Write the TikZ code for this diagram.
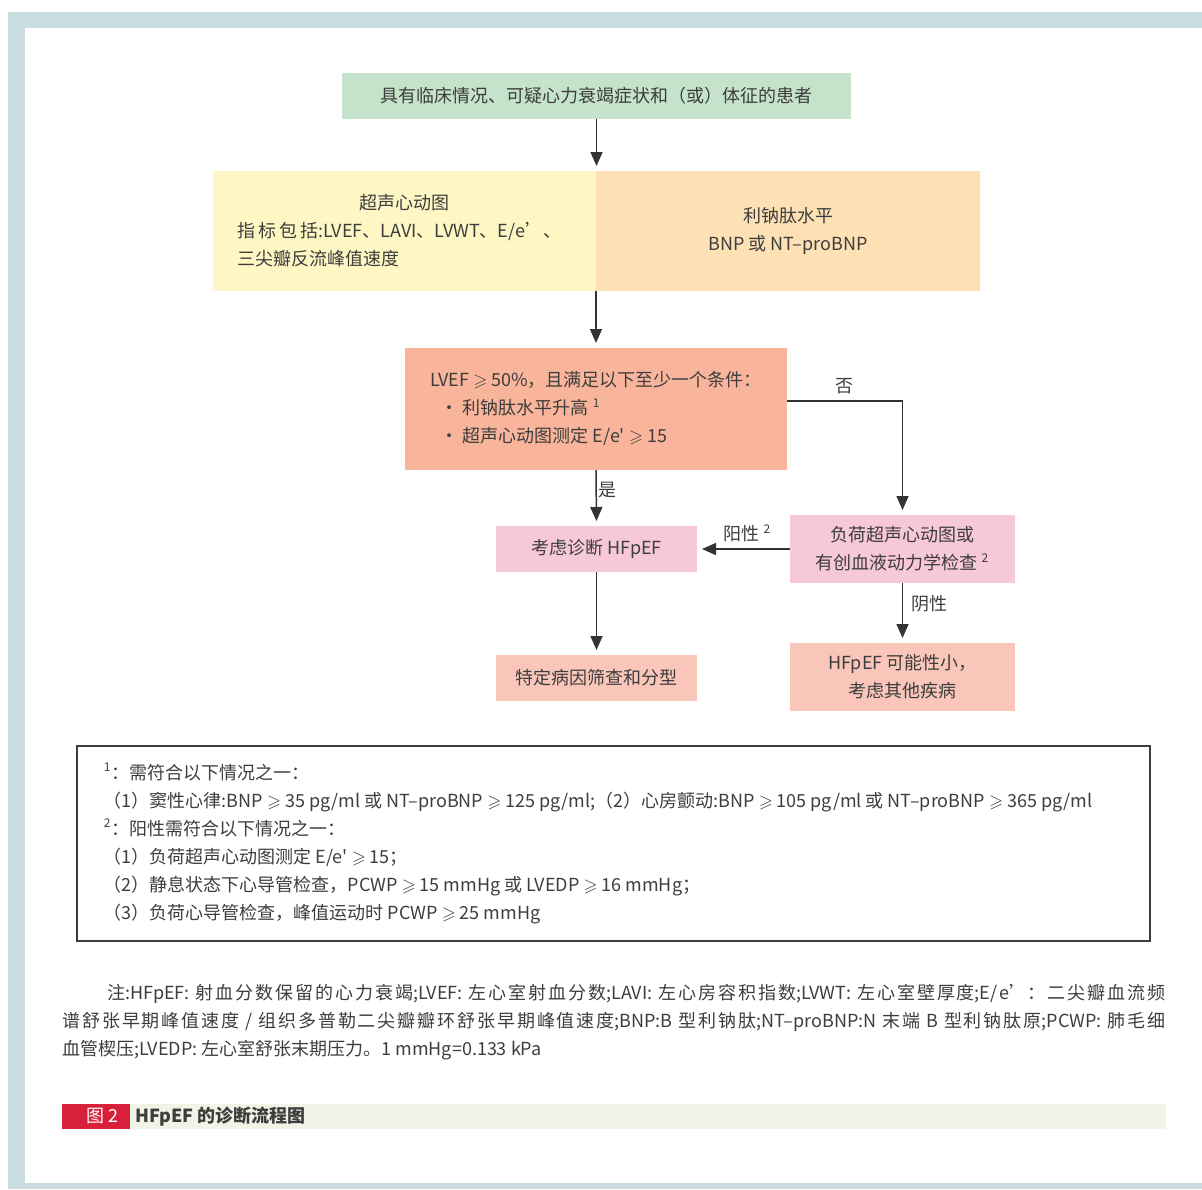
\documentclass[tikz,border=0pt]{standalone}
\usepackage{amssymb}
\usepackage{fontspec}
\setmainfont{Noto Sans CJK SC}
\newfontfamily\plainfont{Noto Sans CJK SC}
\usepackage{xcolor}
\usetikzlibrary{arrows.meta, positioning}
\XeTeXlinebreaklocale "zh"
\XeTeXlinebreakskip=0pt plus 1pt
\definecolor{Frame}{HTML}{C9DCDF}
\definecolor{Mint}{HTML}{C5E3CB}
\definecolor{Cream}{HTML}{FEF7C4}
\definecolor{Peach}{HTML}{FDE1B5}
\definecolor{Salmon}{HTML}{F8B59B}
\definecolor{Blush}{HTML}{F7C7DA}
\definecolor{LiteSalmon}{HTML}{F9C6B9}
\definecolor{Ruby}{HTML}{D9203B}
\definecolor{PaleGreen}{HTML}{EFF4E6}
\definecolor{Ink}{HTML}{3D3D3D}
\definecolor{Wire}{HTML}{333333}
\newcommand{\geqs}{\(\geqslant\)}
\newcommand{\Ee}{E/e{\plainfont '}}
\tikzset{%
  flow_block/.style={%
    rectangle,%
    inner sep=0pt,%
    outer sep=0pt,%
    align=center,%
    text=Ink,%
  },
  flow_path/.style={%
    color=Wire,%
    line width=0.75pt,%
    shorten >=2.5pt,%
  },
  flow_annotate/.style={%
    text=Ink,%
    inner sep=1pt,%
  },
  arrow/.style={-{Triangle[length=7pt, width=6pt]}},
}
\begin{document}
\begin{tikzpicture}[x=0.5pt, y=-0.5pt, font=\fontsize{9}{14}\selectfont]
    \useasboundingbox (0,0) rectangle (1202,1189);
    % frame
    \fill [Frame] (8,12) rectangle (1202,28);
    \fill [Frame] (8,12) rectangle (25,1189);
    \fill [Frame] (25,1183) rectangle (1202,1189);

    \node [flow_block, fill=Mint, minimum width=254.5pt, minimum height=23pt]
      (Patient) at (596.5,96) {%
      具有临床情况、可疑心力衰竭症状和（或）体征的患者%
    };
    \node [flow_block, fill=Cream, minimum width=191.5pt, minimum height=60pt,
      text width=167pt, align=left] (Echo) at (404.5,231) {%
      \makebox[\linewidth]{超声心动图}\\
      指\,标\,包\,括:LVEF、LAVI、LVWT、E/e’、\\
      三尖瓣反流峰值速度%
    };
    \node [flow_block, fill=Peach, minimum width=192pt, minimum height=60pt,
      right = 0pt of Echo] (Peptide) {%
      利钠肽水平\\
      BNP 或 NT–proBNP%
    };
    \node [flow_block, fill=Salmon, minimum width=191pt, minimum height=61pt,
      align=left] (Criteria) at (596,409) {%
      LVEF \geqs{} 50\%，且满足以下至少一个条件：\\
      \hspace*{0.6em}• 利钠肽水平升高 \textsuperscript{1}\\
      \hspace*{0.6em}• 超声心动图测定 \Ee{} \geqs{} 15%
    };
    \node [flow_block, fill=Blush, minimum width=100.5pt, minimum height=23pt]
      (Diagnose) at (596.5,549) {%
      考虑诊断 HFpEF%
    };
    \node [flow_block, fill=Blush, minimum width=112.5pt, minimum height=34pt]
      (Stress) at (902.5,549) {%
      负荷超声心动图或\\
      有创血液动力学检查 \textsuperscript{2}%
    };
    \node [flow_block, fill=LiteSalmon, minimum width=100.5pt, minimum height=23pt]
      (Etiology) at (596.5,678) {%
      特定病因筛查和分型%
    };
    \node [flow_block, fill=LiteSalmon, minimum width=112.5pt, minimum height=34pt]
      (Unlikely) at (902.5,677) {%
      HFpEF 可能性小，\\
      考虑其他疾病%
    };

    \draw [arrow, flow_path]
      (Patient.south)
      --
      (Patient.south |- Echo.north);
    \draw [arrow, flow_path]
      (Echo.south east)
      --
      (Criteria.north);
    \draw [arrow, flow_path]
      (Criteria.south)
      --
      (Diagnose.north)
      node [flow_annotate, pos=0.35, right] {是};
    \draw [arrow, flow_path]
      ([yshift=4pt]Criteria.east)
      -|
      (Stress.north)
      node [flow_annotate, pos=0.25, above=2pt] {否};
    \draw [arrow, flow_path]
      (Stress.west)
      --
      (Diagnose.east)
      node [flow_annotate, midway, above=2pt, xshift=2pt] {阳性 \textsuperscript{2}};
    \draw [arrow, flow_path]
      (Diagnose.south)
      --
      (Etiology.north);
    \draw [arrow, flow_path]
      (Stress.south)
      --
      (Unlikely.north)
      node [flow_annotate, pos=0.35, right=3pt] {阴性};

    % footnotes
    \node [draw=Ink, line width=0.6pt, minimum width=536.5pt, minimum height=97.5pt]
      (Footnotes) at (613.5,843.5) {};
    \node [anchor=west, align=left, inner sep=0pt, text=Ink]
      (FootText) at ([xshift=13.5pt]Footnotes.west) {%
      \textsuperscript{1}：需符合以下情况之一：\\
      （1）窦性心律:BNP \geqs{} 35 pg/ml 或 NT–proBNP \geqs{} 125 pg/ml;（2）心房颤动:BNP \geqs{} 105 pg/ml 或 NT–proBNP \geqs{} 365 pg/ml\\
      \textsuperscript{2}：阳性需符合以下情况之一：\\
      （1）负荷超声心动图测定 \Ee{} \geqs{} 15；\\
      （2）静息状态下心导管检查，PCWP \geqs{} 15 mmHg 或 LVEDP \geqs{} 16 mmHg；\\
      （3）负荷心导管检查，峰值运动时 PCWP \geqs{} 25 mmHg%
    };

    % notes
    \node [anchor=north west, text width=551.5pt, align=justify, inner sep=0pt,
      text=Ink] (Remarks) at (62,984) {%
      \hspace*{22.5pt}注:HFpEF: 射血分数保留的心力衰竭;LVEF: 左心室射血分数;LAVI: 左心房容积指数;LVWT: 左心室壁厚度;E/e’：二尖瓣血流频\linebreak
      谱舒张早期峰值速度 / 组织多普勒二尖瓣瓣环舒张早期峰值速度;BNP:B 型利钠肽;NT–proBNP:N 末端 B 型利钠肽原;PCWP: 肺毛细\linebreak
      血管楔压;LVEDP: 左心室舒张末期压力。1 mmHg=0.133 kPa%
    };

    % caption
    \node [fill=PaleGreen, minimum width=552pt, minimum height=12.5pt, inner sep=0pt,
      anchor=west] (CaptionBar) at (62,1116.5) {};
    \node [fill=Ruby, minimum width=34pt, minimum height=12.5pt, inner sep=0pt,
      anchor=west, text=white] (FigTag) at (62,1116.5) {\hspace*{6pt}图 2};
    \node [anchor=west, inner sep=0pt, xshift=2pt, text=Ink, font=\fontsize{9}{14}\selectfont\bfseries]
      (FigTitle) at (FigTag.east) {HFpEF 的诊断流程图};
\end{tikzpicture}
\end{document}
